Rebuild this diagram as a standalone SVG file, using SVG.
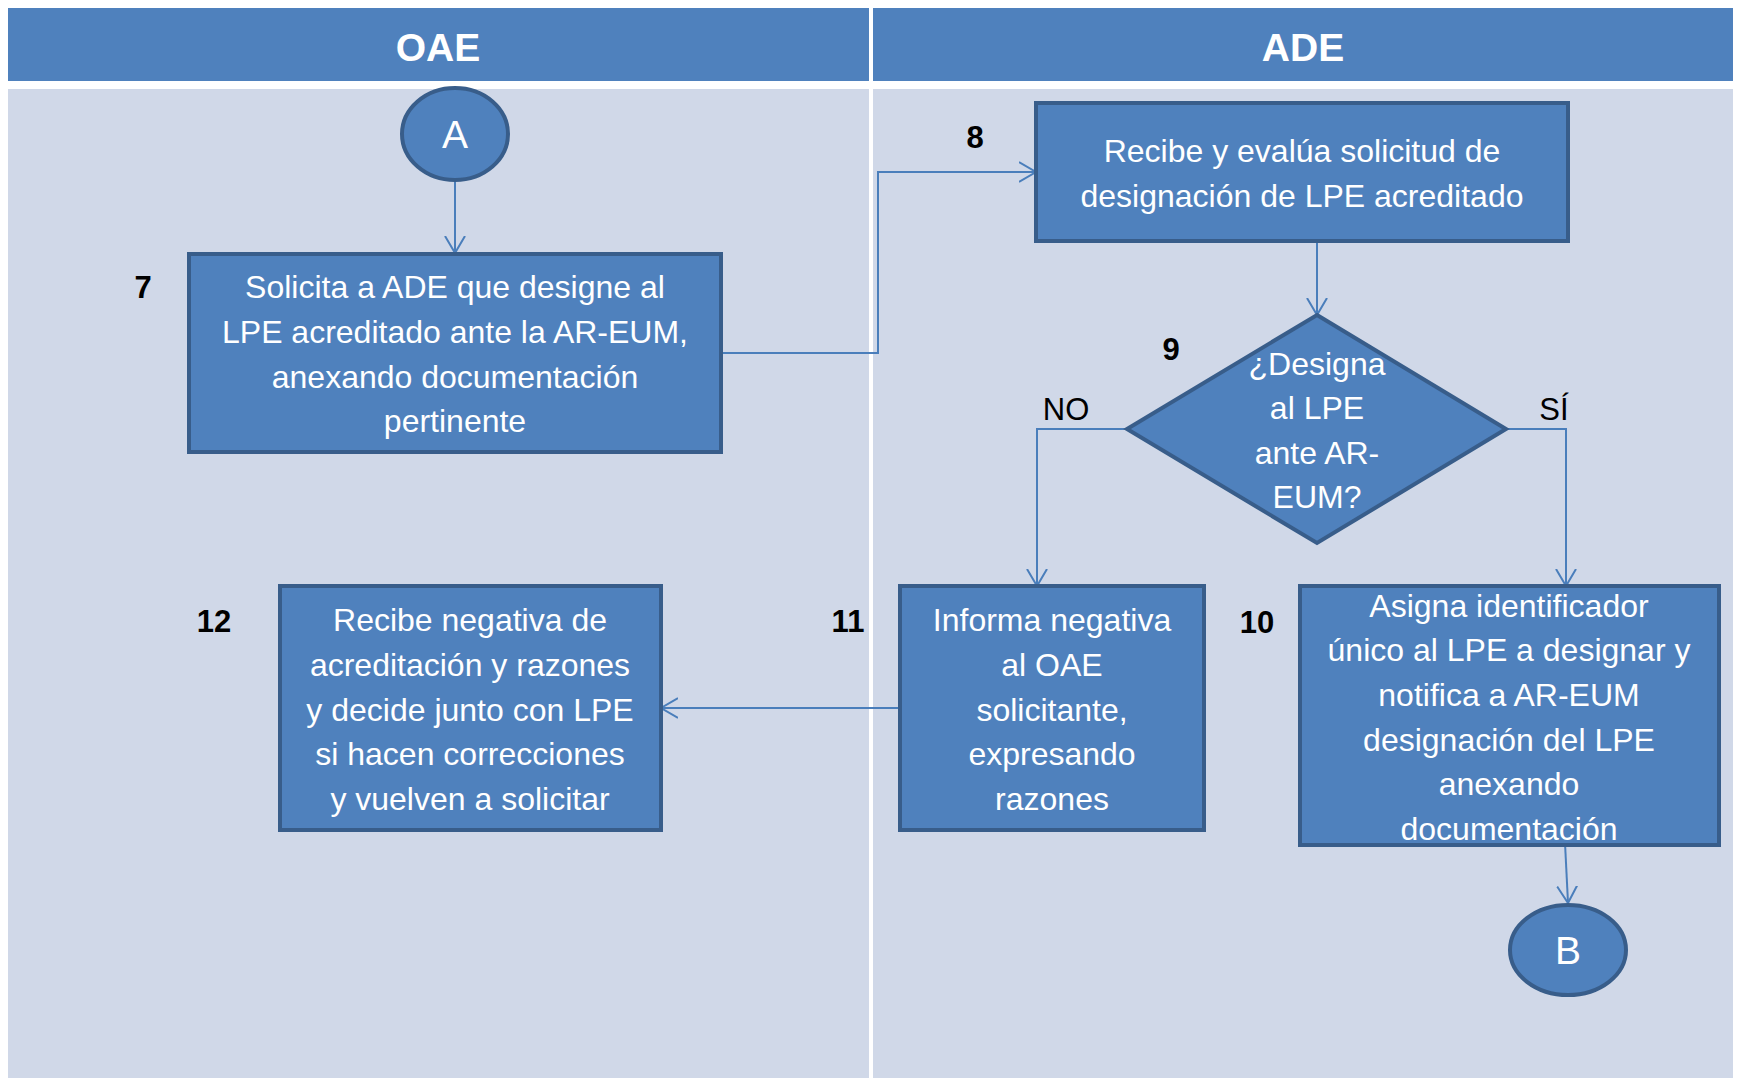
<svg xmlns="http://www.w3.org/2000/svg" width="1737" height="1078" viewBox="0 0 1737 1078">
<defs>
<style>
.hdr{fill:#4F81BD}
.lane{fill:#D0D8E8}
.hdrt{font-family:"Liberation Sans",Arial,sans-serif;font-weight:bold;font-size:39px;fill:#FFFFFF;text-anchor:middle}
.node{fill:#4F81BD;stroke:#385D8A;stroke-width:4}
.nt{font-family:"Liberation Sans",Arial,sans-serif;font-size:32px;fill:#FFFFFF;text-anchor:middle}
.ct{font-family:"Liberation Sans",Arial,sans-serif;font-size:39px;fill:#FFFFFF;text-anchor:middle}
.num{font-family:"Liberation Sans",Arial,sans-serif;font-size:31px;font-weight:bold;fill:#000000;text-anchor:middle}
.lbl{font-family:"Liberation Sans",Arial,sans-serif;font-size:31px;fill:#000000;text-anchor:middle}
.conn{fill:none;stroke:#4A7EBB;stroke-width:2}
</style>
<marker id="arr" markerUnits="userSpaceOnUse" markerWidth="20" markerHeight="24" refX="17" refY="10" orient="auto" viewBox="0 0 20 20">
<path d="M0,0 L17,10 L0,20" fill="none" stroke="#4A7EBB" stroke-width="2"/>
</marker>
</defs>
<rect x="0" y="0" width="1737" height="1078" fill="#FFFFFF"/>
<g id="lanes">
<rect class="hdr" x="8" y="8" width="861" height="73"/>
<rect class="hdr" x="873" y="8" width="860" height="73"/>
<rect class="lane" x="8" y="89" width="861" height="989"/>
<rect class="lane" x="873" y="89" width="860" height="989"/>
<text class="hdrt" x="438" y="61">OAE</text>
<text class="hdrt" x="1303" y="61">ADE</text>
</g>
<g id="connectors">
<path class="conn" d="M455,182 V253" marker-end="url(#arr)"/>
<path class="conn" d="M721,353 H878 V172 H1036" marker-end="url(#arr)"/>
<path class="conn" d="M1317,241 V315" marker-end="url(#arr)"/>
<path class="conn" d="M1127,429 H1037 V586" marker-end="url(#arr)"/>
<path class="conn" d="M1506,429 H1566 V586" marker-end="url(#arr)"/>
<path class="conn" d="M900,708 H661" marker-end="url(#arr)"/>
<path class="conn" d="M1565,843 L1568,903" marker-end="url(#arr)"/>
</g>
<g id="nodeA">
<ellipse class="node" cx="455" cy="134" rx="53" ry="46"/>
<text class="ct" x="455" y="148">A</text>
</g>
<g id="node7">
<rect class="node" x="189" y="254" width="532" height="198"/>
<text class="num" x="143" y="298">7</text>
<text class="nt" x="455" y="298">Solicita a ADE que designe al</text>
<text class="nt" x="455" y="343">LPE acreditado ante la AR-EUM,</text>
<text class="nt" x="455" y="388">anexando documentación</text>
<text class="nt" x="455" y="432">pertinente</text>
</g>
<g id="node8">
<rect class="node" x="1036" y="103" width="532" height="138"/>
<text class="num" x="975" y="148">8</text>
<text class="nt" x="1302" y="162">Recibe y evalúa solicitud de</text>
<text class="nt" x="1302" y="207">designación de LPE acreditado</text>
</g>
<g id="node9">
<polygon class="node" points="1317,315 1506,429 1317,543 1127,429"/>
<text class="num" x="1171" y="360">9</text>
<text class="nt" x="1317" y="375">¿Designa</text>
<text class="nt" x="1317" y="419">al LPE</text>
<text class="nt" x="1317" y="464">ante AR-</text>
<text class="nt" x="1317" y="508">EUM?</text>
<text class="lbl" x="1066" y="420">NO</text>
<text class="lbl" x="1554" y="420">SÍ</text>
</g>
<g id="node10">
<rect class="node" x="1300" y="586" width="419" height="259"/>
<text class="num" x="1257" y="633">10</text>
<text class="nt" x="1509" y="617">Asigna identificador</text>
<text class="nt" x="1509" y="661">único al LPE a designar y</text>
<text class="nt" x="1509" y="706">notifica a AR-EUM</text>
<text class="nt" x="1509" y="751">designación del LPE</text>
<text class="nt" x="1509" y="795">anexando</text>
<text class="nt" x="1509" y="840">documentación</text>
</g>
<g id="node11">
<rect class="node" x="900" y="586" width="304" height="244"/>
<text class="num" x="848" y="632">11</text>
<text class="nt" x="1052" y="631">Informa negativa</text>
<text class="nt" x="1052" y="676">al OAE</text>
<text class="nt" x="1052" y="721">solicitante,</text>
<text class="nt" x="1052" y="765">expresando</text>
<text class="nt" x="1052" y="810">razones</text>
</g>
<g id="node12">
<rect class="node" x="280" y="586" width="381" height="244"/>
<text class="num" x="214" y="632">12</text>
<text class="nt" x="470" y="631">Recibe negativa de</text>
<text class="nt" x="470" y="676">acreditación y razones</text>
<text class="nt" x="470" y="721">y decide junto con LPE</text>
<text class="nt" x="470" y="765">si hacen correcciones</text>
<text class="nt" x="470" y="810">y vuelven a solicitar</text>
</g>
<g id="nodeB">
<ellipse class="node" cx="1568" cy="950" rx="58" ry="45"/>
<text class="ct" x="1568" y="964">B</text>
</g>
</svg>
